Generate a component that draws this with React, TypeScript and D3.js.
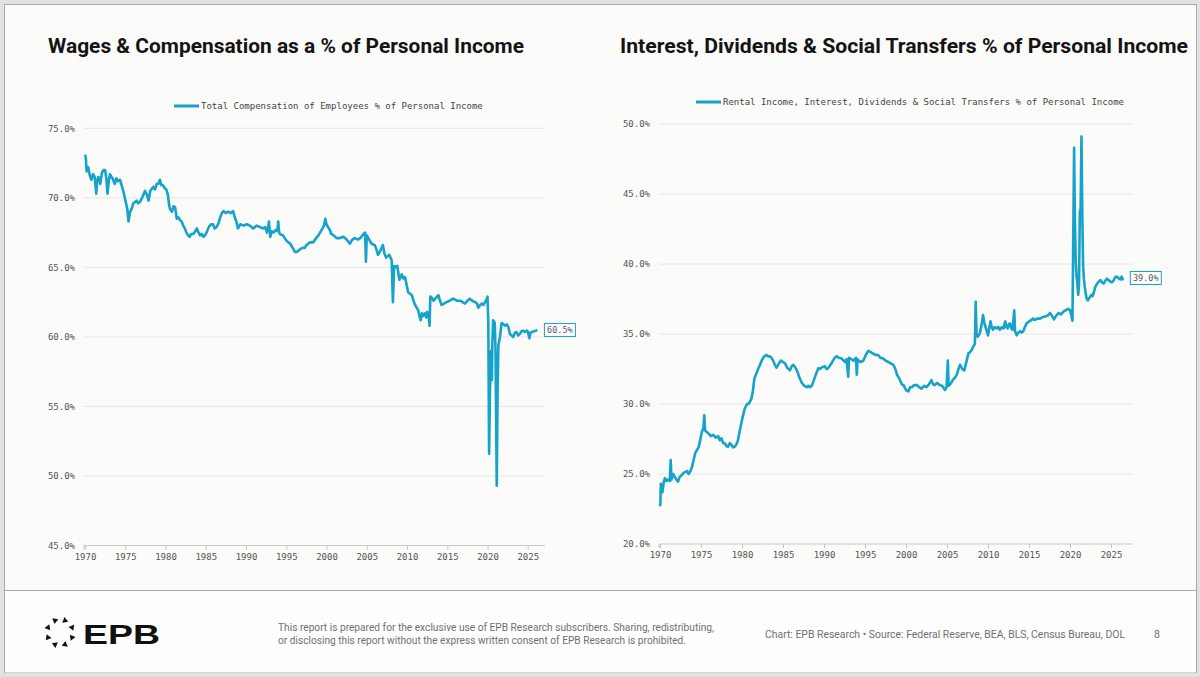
import { useEffect, useRef } from "react";
import * as d3 from "d3";

// Total compensation of employees, % of personal income
const compYears = [
  1970.0, 1970.1, 1970.2, 1970.4, 1970.6, 1970.8, 1971.0, 1971.2, 1971.4, 1971.5, 1971.65, 1971.9,
  1972.1, 1972.3, 1972.5, 1972.65, 1972.8, 1972.95, 1973.1, 1973.3, 1973.5, 1973.7, 1973.9, 1974.1,
  1974.35, 1974.55, 1974.75, 1975.1, 1975.25, 1975.4, 1975.6, 1975.8, 1976.0, 1976.4, 1976.6, 1976.8,
  1977.1, 1977.45, 1977.7, 1977.9, 1978.1, 1978.5, 1978.7, 1978.9, 1979.1, 1979.3, 1979.5, 1979.7,
  1979.9, 1980.1, 1980.3, 1980.45, 1980.55, 1980.8, 1981.0, 1981.2, 1981.4, 1981.6, 1981.8, 1982.0,
  1982.2, 1982.4, 1982.6, 1982.8, 1983.0, 1983.2, 1983.45, 1983.7, 1983.9, 1984.1, 1984.3, 1984.5,
  1984.7, 1984.9, 1985.1, 1985.3, 1985.5, 1985.7, 1985.9, 1986.1, 1986.35, 1986.6, 1986.8, 1987.0,
  1987.2, 1987.5, 1987.8, 1988.1, 1988.4, 1988.6, 1988.8, 1989.0, 1989.3, 1989.7, 1990.1, 1990.5,
  1990.9, 1991.3, 1991.7, 1992.15, 1992.4, 1992.6, 1992.75, 1992.85, 1993.0, 1993.2, 1993.4, 1993.7,
  1993.9, 1994.0, 1994.1, 1994.2, 1994.6, 1995.05, 1995.5, 1995.9, 1996.1, 1996.3, 1996.5, 1996.7,
  1997.0, 1997.3, 1997.5, 1997.95, 1998.35, 1998.7, 1999.0, 1999.4, 1999.7, 1999.85, 2000.0, 2000.2,
  2000.4, 2000.6, 2000.9, 2001.25, 2001.6, 2002.1, 2002.5, 2002.9, 2003.2, 2003.5, 2003.9, 2004.2,
  2004.6, 2004.8, 2004.9, 2005.0, 2005.3, 2005.6, 2006.0, 2006.2, 2006.4, 2006.7, 2007.0, 2007.2,
  2007.4, 2007.8, 2008.1, 2008.25, 2008.4, 2008.5, 2008.8, 2009.05, 2009.35, 2009.55, 2009.75, 2010.0,
  2010.15, 2010.4, 2010.6, 2010.8, 2011.0, 2011.2, 2011.4, 2011.55, 2011.7, 2011.85, 2012.0, 2012.2,
  2012.4, 2012.5, 2012.7, 2012.8, 2012.9, 2013.1, 2013.3, 2013.6, 2013.9, 2014.1, 2014.3, 2014.6,
  2014.9, 2015.3, 2015.75, 2016.2, 2016.6, 2016.9, 2017.2, 2017.5, 2017.8, 2018.1, 2018.45, 2018.7,
  2018.85, 2019.1, 2019.3, 2019.5, 2019.7, 2019.9, 2020.0, 2020.1, 2020.2, 2020.3, 2020.45, 2020.55,
  2020.6, 2020.7, 2020.9, 2021.0, 2021.05, 2021.15, 2021.25, 2021.35, 2021.55, 2021.75, 2022.0, 2022.2,
  2022.4, 2022.6, 2022.8, 2023.0, 2023.2, 2023.4, 2023.6, 2023.8, 2024.0, 2024.2, 2024.45, 2024.65,
  2024.85, 2025.0, 2025.2, 2025.35, 2025.5, 2025.8, 2026.0, 2026.2,
];
const compValues = [
  73.1, 72.9, 71.9, 72.2, 71.6, 71.3, 71.7, 71.5, 70.3, 71.2, 71.5, 71.0,
  71.8, 72.0, 72.0, 71.4, 70.3, 71.2, 71.7, 71.5, 71.3, 71.0, 71.4, 71.2,
  71.3, 70.9, 70.5, 69.6, 69.2, 68.3, 69.0, 69.2, 69.6, 69.8, 69.6, 69.7,
  70.0, 70.5, 70.2, 69.8, 70.5, 70.8, 70.6, 71.0, 71.0, 71.3, 70.9, 70.9,
  70.7, 70.6, 70.2, 69.5, 69.2, 69.0, 69.4, 69.3, 68.5, 68.6, 68.4, 68.3,
  68.0, 67.8, 67.5, 67.3, 67.2, 67.4, 67.4, 67.6, 67.8, 67.5, 67.3, 67.4,
  67.2, 67.3, 67.5, 67.8, 68.0, 68.1, 68.1, 67.8, 67.9, 68.2, 68.6, 68.9,
  69.05, 68.9, 69.0, 68.9, 69.05, 68.6, 68.3, 67.8, 68.1, 68.0, 68.1, 68.0,
  67.8, 68.0, 67.9, 67.8, 67.9, 67.5, 67.8, 68.3, 67.2, 67.6, 67.5, 67.7,
  67.6, 68.3, 67.6, 67.4, 67.3, 66.9, 66.7, 66.3, 66.1, 66.1, 66.2, 66.3,
  66.4, 66.4, 66.6, 66.8, 66.8, 67.1, 67.3, 67.7, 68.0, 68.5, 68.1, 67.9,
  67.7, 67.4, 67.3, 67.1, 67.1, 67.2, 67.0, 66.7, 67.0, 67.1, 67.0, 67.1,
  67.4, 67.5, 65.4, 67.3, 67.0, 66.7, 66.6, 66.3, 65.9, 66.2, 66.6, 66.0,
  65.7, 65.9, 65.5, 62.5, 65.1, 65.0, 65.1, 64.1, 64.5, 64.2, 64.3, 63.6,
  63.2, 63.1, 63.0, 62.6, 62.3, 62.1, 61.9, 61.5, 61.2, 61.7, 61.5, 61.7,
  61.4, 61.8, 61.5, 60.8, 62.9, 62.8, 62.6, 62.8, 63.0, 62.6, 62.3, 62.4,
  62.5, 62.6, 62.75, 62.6, 62.6, 62.5, 62.4, 62.6, 62.75, 62.6, 62.5, 62.4,
  62.1, 62.3, 62.4, 62.3, 62.5, 62.7, 62.9, 61.0, 51.6, 56.0, 59.0, 56.9,
  59.5, 61.2, 61.0, 59.0, 55.7, 49.3, 56.0, 59.4, 60.0, 61.0, 60.9, 60.8,
  60.9, 60.7, 60.2, 60.1, 60.0, 60.3, 60.35, 60.1, 60.2, 60.4, 60.45, 60.35,
  60.45, 60.4, 59.9, 60.3, 60.35, 60.4, 60.45, 60.5,
];

// Rental income, interest, dividends & social transfers, % of personal income
const transferYears = [
  1970.0, 1970.05, 1970.1, 1970.3, 1970.45, 1970.6, 1970.8, 1971.0, 1971.2, 1971.3, 1971.4, 1971.6,
  1971.8, 1972.0, 1972.2, 1972.4, 1972.6, 1972.9, 1973.3, 1973.5, 1973.7, 1973.9, 1974.1, 1974.3,
  1974.5, 1974.7, 1974.9, 1975.1, 1975.3, 1975.4, 1975.5, 1975.7, 1975.9, 1976.2, 1976.5, 1976.8,
  1977.1, 1977.3, 1977.5, 1977.7, 1977.9, 1978.1, 1978.3, 1978.5, 1978.7, 1978.9, 1979.1, 1979.3,
  1979.5, 1979.7, 1980.0, 1980.3, 1980.6, 1980.8, 1981.0, 1981.15, 1981.3, 1981.5, 1981.7, 1982.0,
  1982.2, 1982.4, 1982.7, 1983.0, 1983.2, 1983.4, 1983.6, 1983.8, 1984.0, 1984.2, 1984.5, 1984.75,
  1985.0, 1985.25, 1985.5, 1985.85, 1986.05, 1986.25, 1986.5, 1986.7, 1987.0, 1987.3, 1987.6, 1987.9,
  1988.1, 1988.3, 1988.5, 1988.7, 1989.0, 1989.3, 1989.5, 1989.7, 1990.1, 1990.3, 1990.5, 1990.8,
  1991.1, 1991.3, 1991.55, 1991.8, 1992.15, 1992.4, 1992.55, 1992.75, 1992.95, 1993.05, 1993.2, 1993.6,
  1993.9, 1994.0, 1994.1, 1994.2, 1994.5, 1994.8, 1995.1, 1995.4, 1995.7, 1996.0, 1996.3, 1996.6,
  1996.9, 1997.2, 1997.5, 1997.85, 1998.15, 1998.45, 1998.7, 1998.9, 1999.2, 1999.5, 1999.7, 2000.0,
  2000.3, 2000.5, 2000.7, 2001.0, 2001.3, 2001.6, 2001.9, 2002.2, 2002.5, 2002.8, 2003.1, 2003.3,
  2003.5, 2003.8, 2004.1, 2004.4, 2004.75, 2004.95, 2005.1, 2005.2, 2005.3, 2005.5, 2005.7, 2006.0,
  2006.2, 2006.4, 2006.6, 2006.85, 2007.1, 2007.4, 2007.6, 2007.8, 2008.0, 2008.2, 2008.4, 2008.5,
  2008.6, 2008.75, 2009.0, 2009.2, 2009.4, 2009.55, 2009.75, 2010.0, 2010.15, 2010.3, 2010.45, 2010.6,
  2010.8, 2011.05, 2011.25, 2011.45, 2011.7, 2011.9, 2012.1, 2012.25, 2012.4, 2012.55, 2012.7, 2012.85,
  2013.0, 2013.2, 2013.3, 2013.5, 2013.7, 2013.9, 2014.1, 2014.3, 2014.5, 2014.7, 2015.0, 2015.3,
  2015.5, 2015.7, 2016.0, 2016.35, 2016.65, 2016.95, 2017.25, 2017.55, 2017.8, 2018.05, 2018.3, 2018.6,
  2018.9, 2019.2, 2019.5, 2019.8, 2020.0, 2020.1, 2020.3, 2020.4, 2020.5, 2020.6, 2020.7, 2020.8,
  2020.9, 2021.0, 2021.1, 2021.2, 2021.3, 2021.4, 2021.5, 2021.6, 2021.7, 2021.8, 2022.0, 2022.15,
  2022.4, 2022.6, 2022.75, 2022.9, 2023.05, 2023.2, 2023.45, 2023.7, 2023.9, 2024.1, 2024.3, 2024.5,
  2024.7, 2024.9, 2025.1, 2025.3, 2025.45, 2025.6, 2025.8, 2026.0, 2026.15, 2026.3, 2026.4, 2026.5,
];
const transferValues = [
  22.7, 22.9, 24.3, 23.7, 24.4, 24.7, 24.5, 24.6, 24.5, 26.0, 24.6, 25.0,
  24.8, 24.6, 24.45, 24.8, 24.9, 25.1, 25.2, 25.0, 25.2, 25.5, 26.0, 26.5,
  26.7, 26.9, 27.4, 28.0, 28.3, 29.2, 28.1, 28.0, 27.9, 27.7, 27.8, 27.6,
  27.7, 27.4, 27.55, 27.2, 27.2, 27.0, 26.95, 27.2, 27.1, 26.9, 26.95, 27.1,
  27.4, 28.0, 28.85, 29.6, 30.0, 30.0, 30.2, 30.4, 30.8, 31.8, 32.1, 32.55,
  32.8, 33.1, 33.4, 33.5, 33.4, 33.4, 33.3, 33.1, 32.8, 32.6, 32.9, 33.1,
  33.0, 32.9, 32.6, 32.4, 32.7, 32.8, 32.6, 32.4, 31.9, 31.5, 31.3, 31.2,
  31.3, 31.2, 31.3, 31.6, 32.1, 32.55, 32.5, 32.6, 32.7, 32.5, 32.55, 32.8,
  33.1, 33.3, 33.4, 33.3, 33.25, 33.1, 33.0, 33.2, 31.95, 33.3, 33.25, 33.1,
  33.3, 32.1, 33.2, 33.1, 33.0, 33.1, 33.5, 33.8, 33.7, 33.6, 33.5, 33.5,
  33.3, 33.25, 33.1, 33.0, 32.9, 32.8, 32.5, 32.1, 31.8, 31.4, 31.35, 31.0,
  30.9, 31.2, 31.2, 31.35, 31.35, 31.2, 31.1, 31.3, 31.2, 31.4, 31.7, 31.4,
  31.35, 31.5, 31.35, 31.3, 31.0, 31.2, 33.1, 31.3, 31.35, 31.5, 31.7, 31.9,
  32.1, 32.5, 32.8, 32.5, 32.4, 33.1, 33.6, 33.7, 33.85, 34.1, 34.3, 37.3,
  35.0, 34.8, 35.05, 35.6, 36.35, 35.8, 35.4, 34.9, 35.4, 35.9, 35.5, 35.3,
  35.5, 35.4, 35.5, 35.3, 35.5, 35.4, 35.9, 35.5, 35.4, 35.7, 35.75, 35.4,
  35.3, 36.7, 35.2, 34.9, 35.1, 35.2, 35.1, 35.2, 35.5, 35.75, 35.9, 36.0,
  36.1, 36.0, 36.1, 36.1, 36.2, 36.25, 36.3, 36.5, 36.3, 36.05, 36.3, 36.5,
  36.4, 36.6, 36.7, 36.8, 36.7, 36.5, 35.95, 42.0, 48.3, 43.0, 40.2, 39.1,
  38.6, 37.8, 38.5, 43.7, 44.0, 49.1, 43.5, 39.8, 38.9, 38.4, 37.6, 37.4,
  37.6, 37.8, 37.7, 37.95, 38.3, 38.5, 38.7, 38.85, 38.7, 38.6, 38.8, 38.95,
  38.85, 38.75, 38.7, 38.8, 39.0, 39.1, 39.05, 38.95, 38.9, 39.1, 38.9, 39.0,
];

const xTickYears = [1970, 1975, 1980, 1985, 1990, 1995, 2000, 2005, 2010, 2015, 2020, 2025];
const compTicks = [45, 50, 55, 60, 65, 70, 75];
const transferTicks = [20, 25, 30, 35, 40, 45, 50];

const titles = [
  "Wages & Compensation as a % of Personal Income",
  "Interest, Dividends & Social Transfers % of Personal Income",
];
const legendLabels = [
  "Total Compensation of Employees % of Personal Income",
  "Rental Income, Interest, Dividends & Social Transfers % of Personal Income",
];
const endLabels = ["60.5%", "39.0%"];

const disclaimer = [
  "This report is prepared for the exclusive use of EPB Research subscribers. Sharing, redistributing,",
  "or disclosing this report without the express written consent of EPB Research is prohibited.",
];
const sourceNote = "Chart: EPB Research  \u2022  Source: Federal Reserve, BEA, BLS, Census Bureau, DOL";

const LINE = "#15a3ca";
const MONO = "'DejaVu Sans Mono', 'Liberation Mono', monospace";
const SANS = "Roboto, 'Liberation Sans', Arial, sans-serif";

interface PanelConfig {
  years: number[];
  values: number[];
  yTicks: number[];
  xRange: [number, number];
  xEnd: number;
  yDomain: [number, number];
  yRange: [number, number];
  title: string;
  titleX: number;
  titleWidth: number;
  legend: string;
  legendX: number;
  legendY: number;
  endLabel: string;
}

function drawPanel(root: d3.Selection<SVGGElement, unknown, null, undefined>, cfg: PanelConfig) {
  const x = d3.scaleLinear().domain([1970, 2025]).range(cfg.xRange);
  const y = d3.scaleLinear().domain(cfg.yDomain).range(cfg.yRange);
  const g = root.append("g");
  const left = cfg.xRange[0] - 1;
  const bottom = y(cfg.yDomain[0]);

  g.append("text")
    .attr("x", cfg.titleX)
    .attr("y", 53)
    .attr("font-family", SANS)
    .attr("font-weight", 700)
    .attr("font-size", 20)
    .attr("fill", "#141414")
    .attr("textLength", cfg.titleWidth)
    .attr("lengthAdjust", "spacingAndGlyphs")
    .text(cfg.title);

  // gridlines
  g.selectAll("line.grid")
    .data(cfg.yTicks.slice(1))
    .join("line")
    .attr("class", "grid")
    .attr("x1", left)
    .attr("x2", cfg.xEnd)
    .attr("y1", (d) => y(d))
    .attr("y2", (d) => y(d))
    .attr("stroke", "#e6e6e4")
    .attr("stroke-width", 1);

  const yAxis = g
    .append("g")
    .attr("transform", `translate(${left},0)`)
    .call(
      d3
        .axisLeft(y)
        .tickValues(cfg.yTicks)
        .tickSize(0)
        .tickPadding(9)
        .tickFormat((d) => `${(+d).toFixed(1)}%`)
    );
  yAxis.select(".domain").remove();
  yAxis.selectAll("text").attr("font-family", MONO).attr("font-size", 9).attr("fill", "#555");

  const xAxis = g
    .append("g")
    .attr("transform", `translate(0,${bottom})`)
    .call(
      d3
        .axisBottom(x)
        .tickValues(xTickYears)
        .tickSize(4)
        .tickPadding(4)
        .tickFormat(d3.format("d"))
    );
  xAxis.select(".domain").remove();
  xAxis.selectAll("line").attr("stroke", "#c4c4c4");
  xAxis.selectAll("text").attr("font-family", MONO).attr("font-size", 9).attr("fill", "#555");

  g.append("line")
    .attr("x1", left)
    .attr("x2", cfg.xEnd)
    .attr("y1", bottom)
    .attr("y2", bottom)
    .attr("stroke", "#c8c8c8");
  g.append("line")
    .attr("x1", left)
    .attr("x2", left)
    .attr("y1", bottom)
    .attr("y2", bottom + 4)
    .attr("stroke", "#c4c4c4");

  // legend
  g.append("line")
    .attr("x1", cfg.legendX)
    .attr("x2", cfg.legendX + 25)
    .attr("y1", cfg.legendY)
    .attr("y2", cfg.legendY)
    .attr("stroke", LINE)
    .attr("stroke-width", 3);
  g.append("text")
    .attr("x", cfg.legendX + 27)
    .attr("y", cfg.legendY + 3)
    .attr("font-family", MONO)
    .attr("font-size", 9)
    .attr("fill", "#444")
    .text(cfg.legend);

  const pts: [number, number][] = cfg.years.map((yr, i) => [yr, cfg.values[i]]);
  const line = d3
    .line<[number, number]>()
    .x((d) => x(d[0]))
    .y((d) => y(d[1]));

  g.append("path")
    .attr("d", line(pts) as string)
    .attr("fill", "none")
    .attr("stroke", LINE)
    .attr("stroke-width", 2.6)
    .attr("stroke-linejoin", "round");

  const last = pts[pts.length - 1];
  const bx = x(last[0]) + 7;
  const by = y(last[1]);
  g.append("rect")
    .attr("x", bx)
    .attr("y", by - 6.5)
    .attr("width", 31)
    .attr("height", 13)
    .attr("fill", "#fff")
    .attr("stroke", LINE)
    .attr("stroke-width", 1);
  g.append("text")
    .attr("x", bx + 15.5)
    .attr("y", by + 3)
    .attr("text-anchor", "middle")
    .attr("font-family", MONO)
    .attr("font-size", 8.5)
    .attr("fill", "#555")
    .text(cfg.endLabel);
}

export default function App() {
  const svgRef = useRef<SVGSVGElement | null>(null);

  useEffect(() => {
    if (!svgRef.current) return;
    const width = 1200;
    const height = 677;

    d3.select(svgRef.current).selectAll("*").remove();
    const svg = d3.select(svgRef.current).attr("width", width).attr("height", height);
    const root = svg.append("g");

    // slide frame
    root.append("rect").attr("width", width).attr("height", height).attr("fill", "#e2e2e2");
    root
      .append("rect")
      .attr("x", 4.5)
      .attr("y", 4.5)
      .attr("width", 1192)
      .attr("height", 668)
      .attr("fill", "#fbfbfa")
      .attr("stroke", "#a9a9a9");
    root
      .append("rect")
      .attr("x", 5)
      .attr("y", 591)
      .attr("width", 1191)
      .attr("height", 81.5)
      .attr("fill", "#fefefe");
    root
      .append("line")
      .attr("x1", 5)
      .attr("x2", 1196)
      .attr("y1", 590.5)
      .attr("y2", 590.5)
      .attr("stroke", "#a9a9a9");

    drawPanel(root, {
      years: compYears,
      values: compValues,
      yTicks: compTicks,
      xRange: [85, 527.75],
      xEnd: 545,
      yDomain: [45, 75],
      yRange: [545.5, 128.3],
      title: titles[0],
      titleX: 48,
      titleWidth: 476,
      legend: legendLabels[0],
      legendX: 174,
      legendY: 106,
      endLabel: endLabels[0],
    });

    drawPanel(root, {
      years: transferYears,
      values: transferValues,
      yTicks: transferTicks,
      xRange: [660, 1111],
      xEnd: 1133,
      yDomain: [20, 50],
      yRange: [544, 124],
      title: titles[1],
      titleX: 620,
      titleWidth: 568,
      legend: legendLabels[1],
      legendX: 696,
      legendY: 102,
      endLabel: endLabels[1],
    });

    // footer: logo
    const logo = root.append("g").attr("transform", "translate(60,632.5)");
    const tri = d3.symbol().type(d3.symbolTriangle).size(16);
    d3.range(8).forEach((i) => {
      const a = (i * 45 + 22.5) * (Math.PI / 180);
      logo
        .append("path")
        .attr("d", tri() as string)
        .attr("fill", "#111")
        .attr(
          "transform",
          `translate(${13 * Math.cos(a)},${13 * Math.sin(a)}) rotate(${(a * 180) / Math.PI + 180})`
        );
    });
    root
      .append("text")
      .attr("x", 83)
      .attr("y", 643.5)
      .attr("font-family", "'Liberation Sans', Arial, sans-serif")
      .attr("font-weight", 700)
      .attr("font-size", 27.5)
      .attr("fill", "#111")
      .attr("textLength", 77)
      .attr("lengthAdjust", "spacingAndGlyphs")
      .text("EPB");

    root
      .selectAll("text.disc")
      .data(disclaimer)
      .join("text")
      .attr("class", "disc")
      .attr("x", 278)
      .attr("y", (_, i) => 630.5 + i * 13)
      .attr("font-family", SANS)
      .attr("font-size", 10.5)
      .attr("fill", "#707070")
      .attr("textLength", (_, i) => (i === 0 ? 436 : 408))
      .attr("lengthAdjust", "spacingAndGlyphs")
      .text((d) => d);

    root
      .append("text")
      .attr("x", 765)
      .attr("y", 637.5)
      .attr("font-family", SANS)
      .attr("font-size", 10.5)
      .attr("fill", "#707070")
      .attr("textLength", 360)
      .attr("lengthAdjust", "spacingAndGlyphs")
      .text(sourceNote);

    root
      .append("text")
      .attr("x", 1157)
      .attr("y", 637.5)
      .attr("text-anchor", "middle")
      .attr("font-family", SANS)
      .attr("font-size", 10.5)
      .attr("fill", "#707070")
      .text("8");
  }, []);

  return (
    <div style={{ position: "absolute", left: 0, top: 0 }}>
      <svg ref={svgRef} />
    </div>
  );
}
